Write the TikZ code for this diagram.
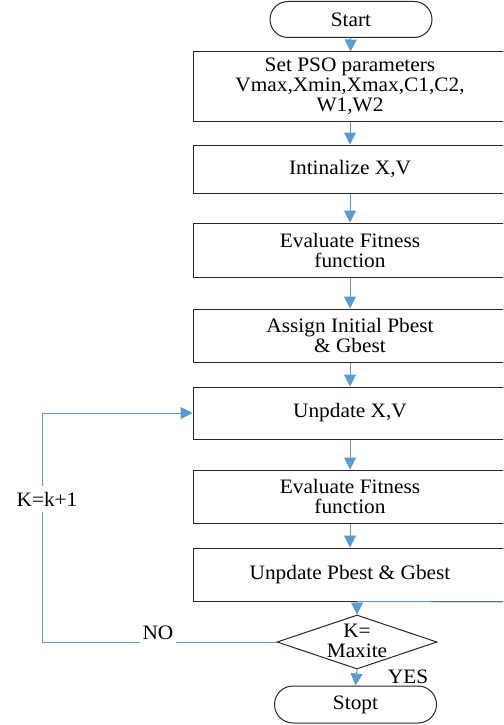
\documentclass[tikz,border=0pt]{standalone}
\usepackage{fontspec}
\setmainfont{Liberation Serif}[FakeStretch=1.04]
\usetikzlibrary{shapes.geometric,shapes.misc,arrows.meta}
\definecolor{lblue}{HTML}{5B9BD5}
\begin{document}
\begin{tikzpicture}[x=1pt,y=-1pt,
  every node/.style={font=\fontsize{20.5}{20}\selectfont},
  box/.style={draw=black!85,line width=1pt,rectangle,inner sep=0pt,minimum width=314pt,align=center},
  term/.style={draw=black!85,line width=1pt,rounded rectangle,inner sep=0pt,minimum width=162pt,minimum height=36pt},
  conn/.style={draw=lblue,line width=1pt,-{Triangle[width=12pt,length=12pt]}},
  bline/.style={draw=lblue,line width=1pt}]
\useasboundingbox (0,0) rectangle (503,725);
\clip (0,0) rectangle (503,725);
\node[term] (start) at (351,19.5) {Start};
\node[box,minimum height=69pt] (b1) at (350,86.5) {Set PSO parameters\\Vmax,Xmin,Xmax,C1,C2,\\W1,W2};
\node[box,minimum height=48pt] (b2) at (350,169) {Intinalize X,V};
\node[box,minimum height=54pt] (b3) at (350,250) {Evaluate Fitness\\function};
\node[box,minimum height=53pt] (b4) at (350,335.5) {Assign Initial Pbest\\\& Gbest};
\node[box,minimum height=52pt] (b5) at (350,413) {Unpdate X,V};
\node[box,minimum height=53pt] (b6) at (350,496.5) {Evaluate Fitness\\function};
\node[box,minimum height=53pt] (b7) at (350,574.5) {Unpdate Pbest \& Gbest};
\node[diamond,draw=black!85,line width=1pt,inner sep=0pt,minimum width=160pt,minimum height=54pt] (dia) at (357,642) {};
\node[align=center] (diat) at (357,641) {K=\\Maxite};
\node[term,minimum height=37pt] (stop) at (355.5,704.5) {Stopt};
\coordinate (redge) at (510,602);
\coordinate (lcorner) at (42,642);
\draw[conn] (start) -- (b1);
\draw[conn] (b1) -- (b2);
\draw[conn] (b2) -- (b3);
\draw[conn] (b3) -- (b4);
\draw[conn] (b4) -- (b5);
\draw[conn] (b5) -- (b6);
\draw[conn] (b6) -- (b7);
\draw[bline] (b7.south -| dia.north) -- (redge);
\draw[conn] (b7.south -| dia.north) -- (dia.north);
\draw[conn] (dia.south) -- (stop.north);
\draw[conn] (dia.west) -- (lcorner) |- (b5.west);
\node[fill=white,inner xsep=1pt,inner ysep=6pt] (kk) at (47,499) {K=k+1};
\node[fill=white,inner xsep=3pt,inner ysep=4pt,anchor=south] (no) at (158,644) {NO};
\node (yes) at (408,677) {YES};
\end{tikzpicture}
\end{document}
